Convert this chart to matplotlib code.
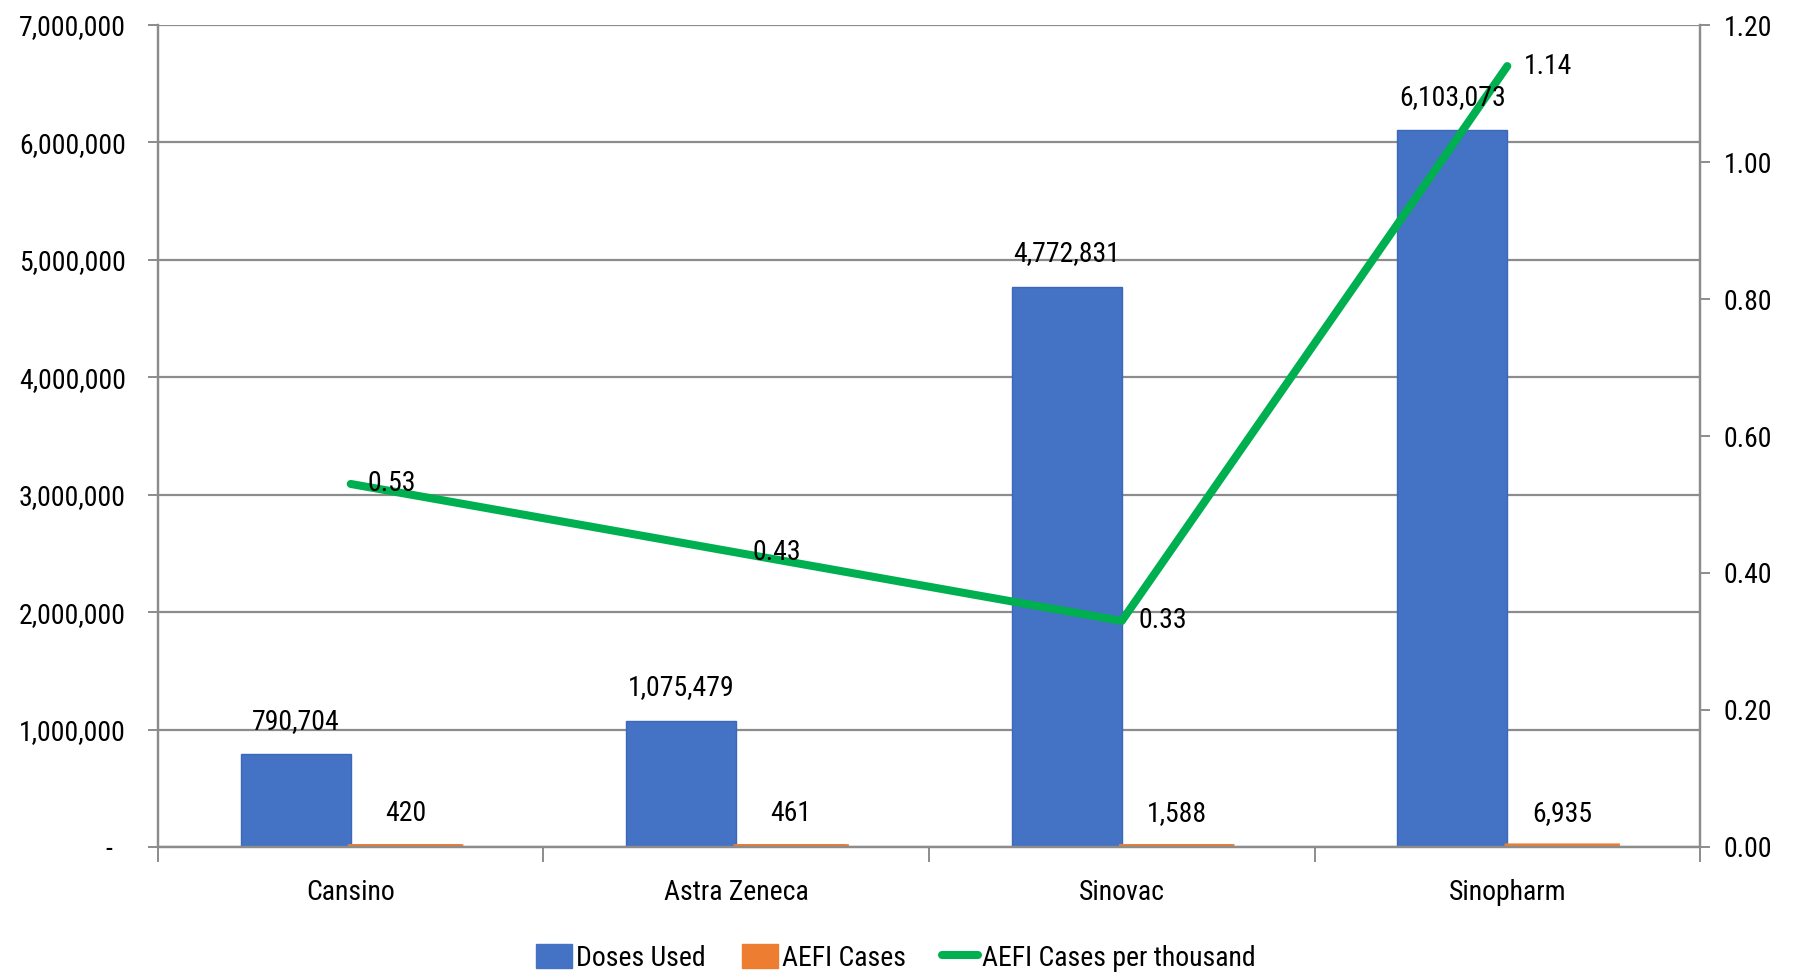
import matplotlib
matplotlib.use("Agg")
import matplotlib.pyplot as plt
import matplotlib.ticker as mticker
from matplotlib.patches import Patch
from matplotlib.lines import Line2D
import numpy as np

plt.rcParams['font.family'] = ['Roboto Condensed', 'PT Sans Narrow', 'Carlito', 'Liberation Sans', 'DejaVu Sans']

categories = ["Cansino", "Astra Zeneca", "Sinovac", "Sinopharm"]
doses_used = [790704, 1075479, 4772831, 6103073]
aefi_cases = [420, 461, 1588, 6935]
aefi_per_thousand = [0.53, 0.43, 0.33, 1.14]

BLUE = "#4472C4"
ORANGE = "#ED7D31"
GREEN = "#00B050"
GRID = "#8C8C8C"
FS = 20

fig = plt.figure(figsize=(17.95, 9.73), dpi=100)
ax = fig.add_axes([0.0880, 0.1295, 0.8591, 0.8448])
ax2 = ax.twinx()

x = np.arange(len(categories))
w = 0.285
ax.bar(x - w / 2, doses_used, width=w, color=BLUE, edgecolor="#3D68B8", linewidth=1.0, zorder=2)
ax.bar(x + w / 2, aefi_cases, width=w, color=ORANGE, edgecolor=ORANGE, linewidth=4.0, zorder=2, snap=False)

ax.set_xlim(-0.5, 3.5)
ax.set_ylim(0, 7000000)
ax.yaxis.set_major_locator(mticker.MultipleLocator(1000000))
ax.yaxis.set_major_formatter(mticker.FuncFormatter(lambda v, p: "-  " if v == 0 else f"{int(v):,}"))
ax.grid(axis="y", color=GRID, linewidth=1.6, zorder=0)
ax.set_axisbelow(True)

ax.set_xticks(x)
ax.set_xticklabels(categories)
ax.set_xticks(np.arange(-0.5, 4.0, 1.0), minor=True)
ax.tick_params(axis="x", which="major", length=0, pad=23, labelsize=FS)
ax.tick_params(axis="x", which="minor", length=11, width=1.4, color=GRID, direction="out")
ax.tick_params(axis="y", length=7, width=1.4, color=GRID, pad=16, labelsize=FS)

ax.spines["top"].set_visible(False)
ax2.spines["top"].set_visible(False)
for a in (ax, ax2):
    for sp in ["left", "right", "bottom"]:
        a.spines[sp].set_color(GRID)
        a.spines[sp].set_linewidth(1.6)

ax2.plot(x, aefi_per_thousand, color=GREEN, linewidth=5.8, solid_capstyle="round", zorder=3)
ax2.set_ylim(0, 1.2)
ax2.yaxis.set_major_locator(mticker.MultipleLocator(0.2))
ax2.yaxis.set_major_formatter(mticker.FormatStrFormatter("%.2f"))
ax2.tick_params(axis="y", length=7, width=1.4, color=GRID, pad=10, labelsize=FS)

off = 33 * 72 / 100
for xi, v in zip(x, doses_used):
    ax2.annotate(f"{v:,}", xy=(xi - w / 2, v / 7000000 * 1.2), xytext=(0, off), textcoords="offset points",
                 ha="center", va="center", fontsize=FS, zorder=5)
for xi, v in zip(x, aefi_cases):
    ax2.annotate(f"{v:,}", xy=(xi + w / 2, v / 7000000 * 1.2), xytext=(0, off), textcoords="offset points",
                 ha="center", va="center", fontsize=FS, zorder=5)
for xi, v in zip(x, aefi_per_thousand):
    ax2.annotate(f"{v:.2f}", xy=(xi, v), xytext=(12, 0), textcoords="offset points",
                 ha="left", va="center", fontsize=FS, zorder=5)

handles = [Patch(facecolor=BLUE, edgecolor=BLUE), Patch(facecolor=ORANGE, edgecolor=ORANGE),
           Line2D([0], [0], color=GREEN, linewidth=5.8, solid_capstyle="round")]
fig.legend(handles, ["Doses Used", "AEFI Cases", "AEFI Cases per thousand"], loc="center",
           bbox_to_anchor=(0.499, 0.0154), ncol=3, frameon=False, fontsize=FS,
           handlelength=1.3, handleheight=0.9, handletextpad=0.15, columnspacing=1.3,
           borderaxespad=0, borderpad=0)

fig.savefig("out.png", dpi=100)
